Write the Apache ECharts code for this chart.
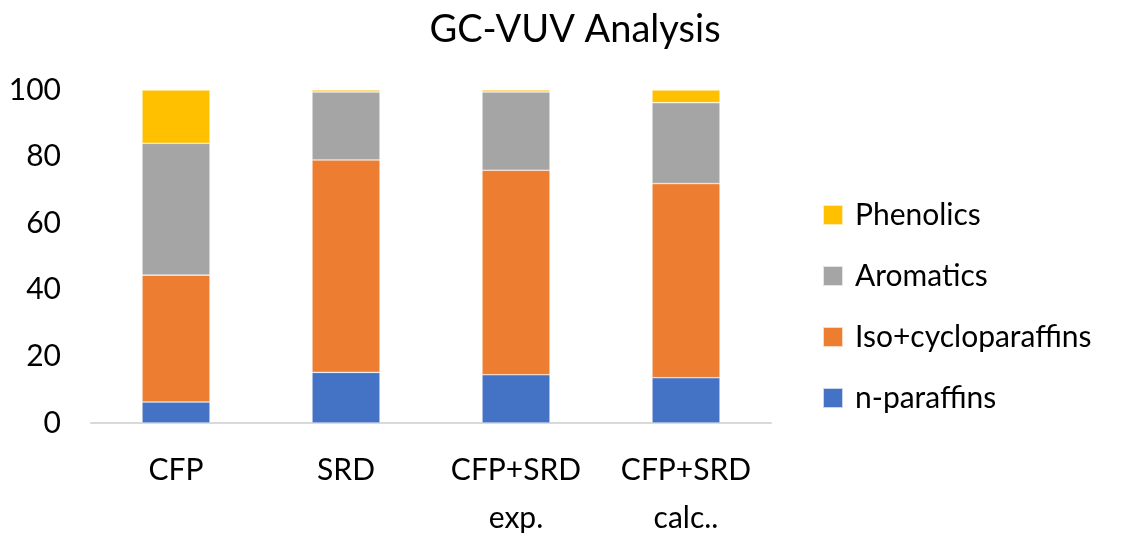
<!DOCTYPE html>
<html>
<head>
<meta charset="utf-8">
<script src="https://cdn.jsdelivr.net/npm/echarts@6/dist/echarts.min.js"></script>
<style>
  html, body { margin: 0; padding: 0; background: #fff; }
  #chart { width: 1124px; height: 533px; }
</style>
</head>
<body>
<div id="chart"></div>
<script>
var categories = ['CFP', 'SRD', 'CFP+SRD\nexp.', 'CFP+SRD\ncalc..'];
var nParaffins = [6.3, 15.2, 14.5, 13.6];
var isoCyclo = [38.1, 63.8, 61.4, 58.3];
var aromatics = [39.6, 20.4, 23.5, 24.3];
var phenolics = [16.0, 0.6, 0.6, 3.8];
var yTicks = [0, 20, 40, 60, 80, 100];

var font = 'Lato, "Open Sans", sans-serif';

function part(name, data, color) {
    return {
        name: name,
        type: 'bar',
        stack: 'total',
        barWidth: '40%',
        data: data,
        itemStyle: { color: color, borderColor: 'rgba(255,255,255,0.7)', borderWidth: 0.6 }
    };
}

var el = echarts.init(document.getElementById('chart'));
el.setOption({
    animation: false,
    textStyle: { fontFamily: font },
    title: {
        text: 'GC-VUV Analysis',
        left: 570,
        top: 6,
        textAlign: 'center',
        textStyle: { fontSize: 38, fontWeight: 'normal', color: '#000', fontFamily: font }
    },
    legend: {
        orient: 'vertical',
        left: 817,
        top: 193,
        itemWidth: 20,
        itemHeight: 20,
        itemGap: 27,
        icon: 'rect',
        data: ['Phenolics', 'Aromatics', 'Iso+cycloparaffins', 'n-paraffins'],
        textStyle: { fontSize: 30, lineHeight: 34, color: '#000', fontFamily: font, padding: [0, 0, 0, 7] }
    },
    grid: { left: 91, right: 353, top: 90, bottom: 110, outerBoundsMode: 'none' },
    xAxis: {
        type: 'category',
        data: categories,
        axisLine: { lineStyle: { color: '#D9D9D9', width: 2 } },
        axisTick: { show: false },
        axisLabel: { fontSize: 30, lineHeight: 48, color: '#000', margin: 23, fontFamily: font }
    },
    yAxis: {
        type: 'value',
        min: yTicks[0],
        max: yTicks[yTicks.length - 1],
        interval: 20,
        splitLine: { show: false },
        axisLine: { show: false },
        axisTick: { show: false },
        axisLabel: { fontSize: 30, color: '#000', margin: 30, fontFamily: font }
    },
    series: [
        part('n-paraffins', nParaffins, '#4472C4'),
        part('Iso+cycloparaffins', isoCyclo, '#ED7D31'),
        part('Aromatics', aromatics, '#A5A5A5'),
        part('Phenolics', phenolics, '#FFC000')
    ]
});
</script>
</body>
</html>
